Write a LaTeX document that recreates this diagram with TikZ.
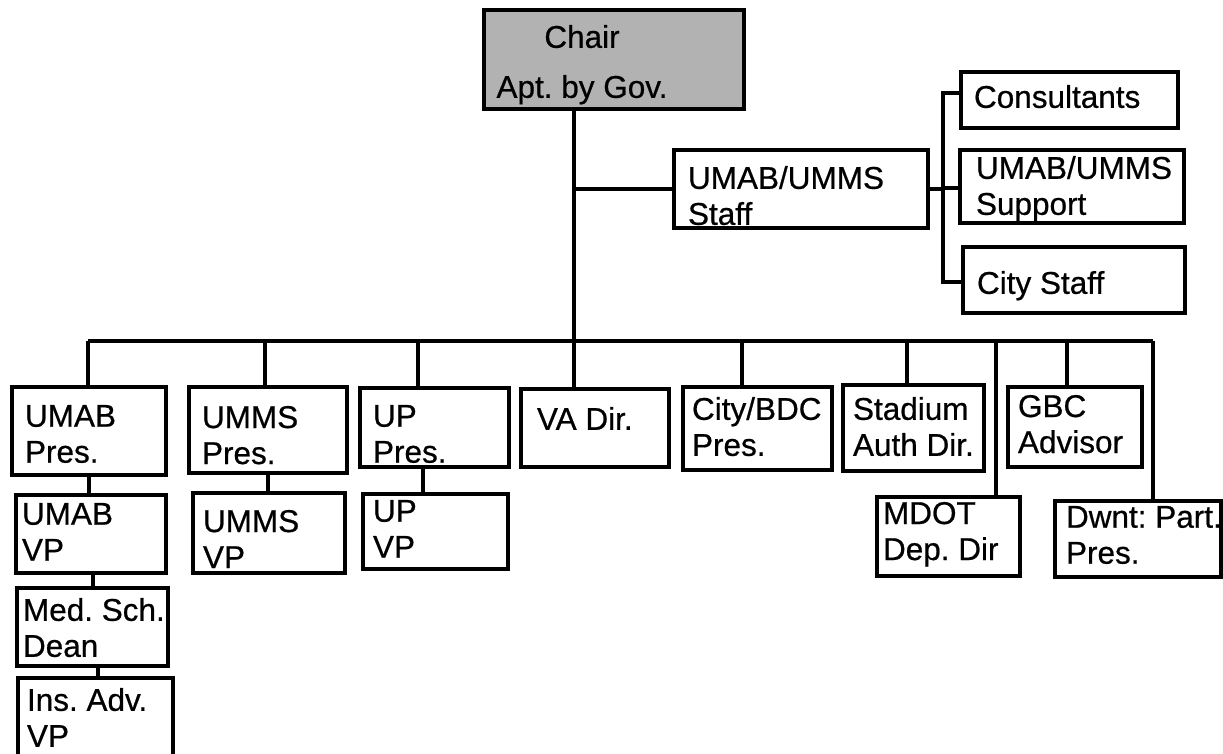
\documentclass[tikz,border=0pt]{standalone}
\usepackage{fontspec}
\setmainfont[FakeBold=0.6]{Liberation Sans}
\frenchspacing
\tikzset{
  box/.style={draw, line width=3.2pt, inner sep=0pt, outer sep=0pt},
  txt/.style={inner sep=0pt, outer sep=0pt, align=left, font=\fontsize{31.5}{36}\selectfont\frenchspacing},
  wire/.style={line width=3.2pt},
  trunk/.style={line width=3.6pt},
}
% name, x1, y1, x2, y2, text-x, text-top, text
\newcommand{\obox}[8]{%
  \node[box, minimum width={#4-#2}, minimum height={#5-#3}] (#1) at ({(#2+#4)/2},{(#3+#5)/2}) {};
  \node[txt, anchor=north west] (#1-t) at (#6,#7) {#8};
}
\begin{document}
\begin{tikzpicture}[x=1pt,y=-1pt]
\useasboundingbox (0,0) rectangle (1223,753);

% Chair
\node[box, fill=gray!60, minimum width=260, minimum height=99] (chair) at (614,59.5) {};
\node[txt, align=center, anchor=north] (chair-t) at (582,25) {Chair\\[14pt]Apt. by Gov.};

% staff branch
\obox{staff}{674}{150}{928}{228}{688}{166}{UMAB/UMMS\\Staff}
\obox{cons}{961}{72}{1178}{128}{974}{85}{Consultants}
\obox{supp}{960}{150}{1184}{223}{976}{156}{UMAB/UMMS\\Support}
\obox{cstaff}{963}{247}{1185}{313}{977}{271}{City Staff}

% second row
\obox{umabp}{12}{387}{166}{475}{25}{405}{UMAB\\Pres.}
\obox{ummsp}{189}{387}{347}{473}{202}{406}{UMMS\\Pres.}
\obox{upp}{360}{388}{509}{467}{373}{405}{UP\\Pres.}
\obox{va}{521}{389}{669}{467}{537}{407}{VA Dir.}
\obox{city}{683}{387}{832}{470}{692}{397}{City/BDC\\Pres.}
\obox{stad}{843}{385}{984}{471}{853}{397}{Stadium\\Auth Dir.}
\obox{gbc}{1008}{387}{1142}{467}{1018}{395}{GBC\\Advisor}
\obox{mdot}{877}{497}{1020}{576}{883}{502}{MDOT\\Dep. Dir}
\obox{dwnt}{1055}{501}{1221}{577}{1066}{506}{Dwnt: Part.\\Pres.}

% lower stacks
\obox{umabvp}{16}{495}{166}{573}{22}{503}{UMAB\\VP}
\obox{med}{17}{588}{168}{666}{23}{598}{Med. Sch.\\Dean}
\obox{ins}{18}{678}{173}{760}{27}{688}{Ins. Adv.\\VP}
\obox{ummsvp}{193}{493}{345}{573}{203}{510}{UMMS\\VP}
\obox{upvp}{363}{494}{508}{569}{373}{500}{UP\\VP}

% trunk and bus
\coordinate (jt) at (574,341);
\coordinate (bl) at (88,341);
\coordinate (br) at (1153,341);
\draw[trunk] (chair.south -| jt) -- (jt);
\draw[wire] (jt |- staff.west) -- (staff.west);
\draw[wire] (bl) -- (br);

% drops
\draw[wire] (bl) -- (bl |- umabp.north);
\coordinate (b2) at (265,341); \draw[wire] (b2) -- (b2 |- ummsp.north);
\coordinate (b3) at (418,341); \draw[wire] (b3) -- (b3 |- upp.north);
\draw[wire] (jt) -- (jt |- va.north);
\coordinate (b5) at (742,341); \draw[wire] (b5) -- (b5 |- city.north);
\coordinate (b6) at (907,341); \draw[wire] (b6) -- (b6 |- stad.north);
\coordinate (b7) at (996,341); \draw[wire] (b7) -- (b7 |- mdot.north);
\coordinate (b8) at (1067,341); \draw[wire] (b8) -- (b8 |- gbc.north);
\draw[wire] (br) -- (br |- dwnt.north);

% stack connectors
\coordinate (s1) at (89,480); \draw[wire] (s1 |- umabp.south) -- (s1 |- umabvp.north);
\coordinate (s2) at (93,580); \draw[wire] (s2 |- umabvp.south) -- (s2 |- med.north);
\coordinate (s3) at (98,670); \draw[wire] (s3 |- med.south) -- (s3 |- ins.north);
\coordinate (s4) at (268,480); \draw[wire] (s4 |- ummsp.south) -- (s4 |- ummsvp.north);
\coordinate (s5) at (423,480); \draw[wire] (s5 |- upp.south) -- (s5 |- upvp.north);

% right bracket
\coordinate (rb) at (943,188);
\coordinate (rt) at (943,93);
\coordinate (rbt) at (943,282);
\draw[wire] (staff.east) -- (staff.east -| rb);
\draw[wire] (rt -| cons.west) -- (rt) -- (rbt) -- (rbt -| cstaff.west);
\draw[wire] (rb) -- (rb -| supp.west);
\end{tikzpicture}
\end{document}
